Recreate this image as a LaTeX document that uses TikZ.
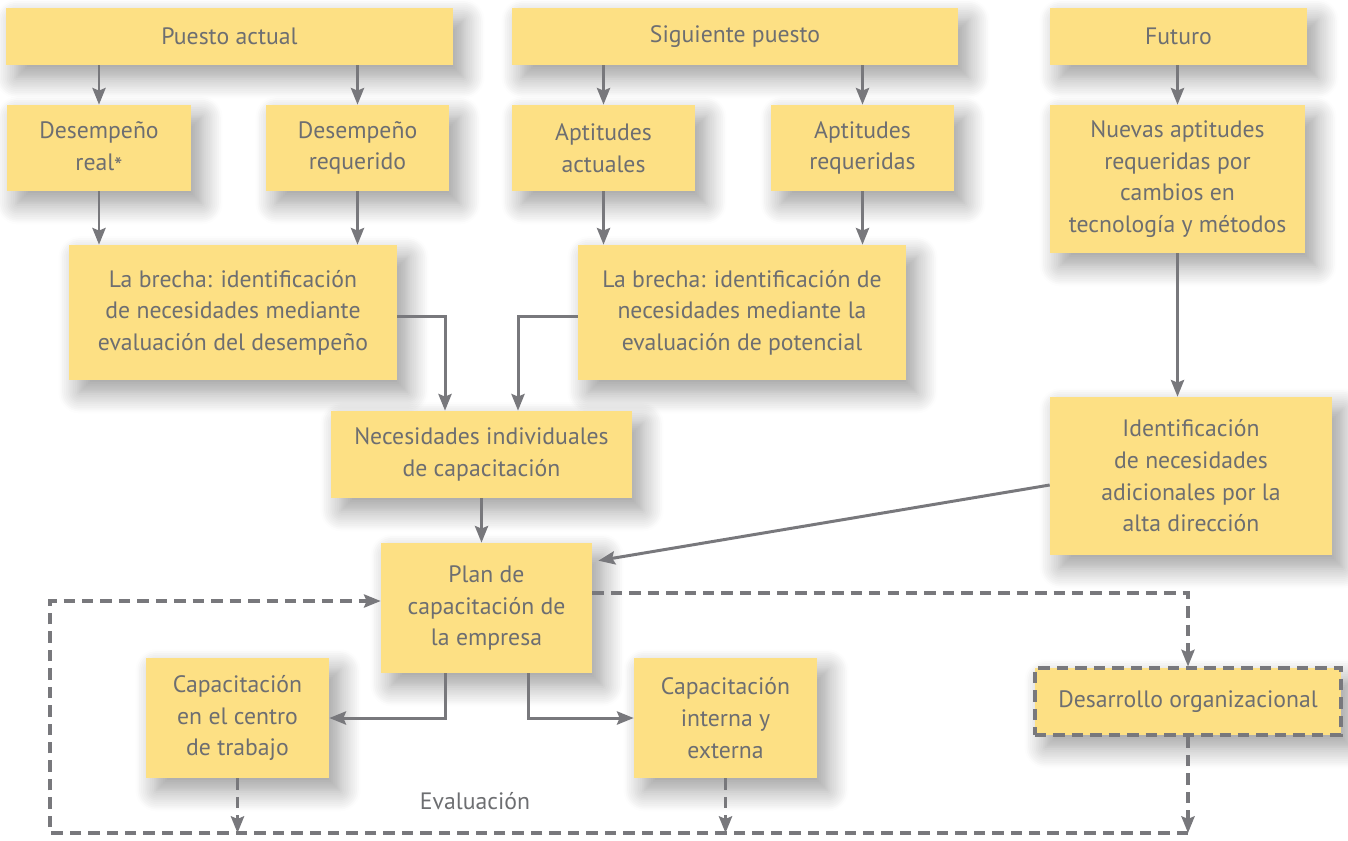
\documentclass[tikz,border=0pt]{standalone}
\usepackage{fontspec}
\setmainfont{PT Sans}
\usetikzlibrary{arrows.meta,positioning,calc,shadows.blur}
\definecolor{cajacol}{RGB}{253,224,132}
\definecolor{textocol}{RGB}{109,110,113}
\definecolor{lineacol}{RGB}{120,120,124}

\begin{document}
\begin{tikzpicture}[x=0.02cm,y=-0.02cm,>=Stealth,
  caja/.style={fill=cajacol,text=textocol,align=center,inner sep=0pt,
    font=\fontsize{13.5}{18}\selectfont,
    blur shadow={shadow xshift=6pt,shadow yshift=-7pt,shadow blur radius=12pt,
      shadow blur steps=12,shadow opacity=40}},
  flecha/.style={lineacol,line width=1.7pt,-{Stealth[length=9.5pt,width=7.5pt,inset=1.5pt]}},
  discont/.style={lineacol,line width=1.8pt,dash pattern=on 6.5pt off 4pt},
  flechad/.style={discont,-{Stealth[length=9.5pt,width=7.5pt,inset=1.5pt]}}]
  \useasboundingbox (0,0) rectangle (1348,840);

  % fila superior
  \node[caja,minimum width=8.94cm,minimum height=1.14cm] (pa) at (229.5,36.5) {Puesto actual};
  \node[caja,minimum width=8.92cm,minimum height=1.14cm] (sp) at (735,36.5) {Siguiente puesto};
  \node[caja,minimum width=5.14cm,minimum height=1.14cm] (fu) at (1178.5,36.5) {Futuro};

  % segunda fila
  \node[caja,minimum width=3.68cm,minimum height=1.72cm] (dreal) at (99,148)
    {Desempeño\\real\raisebox{-0.3ex}{*}};
  \node[caja,minimum width=3.66cm,minimum height=1.72cm] (dreq) at (357.5,148) {Desempeño\\requerido};
  \node[caja,minimum width=3.66cm,minimum height=1.72cm] (aact) at (603.5,148) {Aptitudes\\actuales};
  \node[caja,minimum width=3.66cm,minimum height=1.72cm] (areq) at (862.5,148) {Aptitudes\\requeridas};
  \node[caja,minimum width=5.1cm,minimum height=2.96cm] (nue) at (1177.5,179)
    {Nuevas aptitudes\\requeridas por\\cambios en\\tecnología y métodos};

  % brechas
  \node[caja,minimum width=6.56cm,minimum height=2.7cm] (br1) at (233,312.5)
    {La brecha: identificación\\de necesidades mediante\\evaluación del desempeño};
  \node[caja,minimum width=6.56cm,minimum height=2.7cm] (br2) at (742,312.5)
    {La brecha: identificación de\\necesidades mediante la\\evaluación de potencial};

  \node[caja,minimum width=6.02cm,minimum height=1.74cm] (nec) at (481.5,454.5)
    {Necesidades individuales\\de capacitación};
  \node[caja,minimum width=5.64cm,minimum height=3.16cm] (ide) at (1191,476)
    {Identificación\\de necesidades\\adicionales por la\\alta dirección};

  \node[caja,minimum width=4.22cm,minimum height=2.6cm] (plan) at (486.5,608)
    {Plan de\\capacitación de\\la empresa};

  % fila inferior
  \node[caja,minimum width=3.66cm,minimum height=2.4cm] (cap1) at (237.5,718)
    {Capacitación\\en el centro\\de trabajo};
  \node[caja,minimum width=3.66cm,minimum height=2.4cm] (cap2) at (725.5,718)
    {Capacitación\\interna y\\externa};
  \node[caja,draw=lineacol,line width=1.8pt,dash pattern=on 6.5pt off 4pt,
    minimum width=6.12cm,minimum height=1.34cm] (des) at (1188,701.5) {Desarrollo organizacional};

  \node[text=textocol,font=\fontsize{13.5}{18}\selectfont] (eva) at (475,801) {Evaluación};
  \coordinate (esq) at (50,833);

  % flechas continuas
  \draw[flecha] (dreal.north |- pa.south) -- (dreal.north);
  \draw[flecha] (dreq.north |- pa.south) -- (dreq.north);
  \draw[flecha] (aact.north |- sp.south) -- (aact.north);
  \draw[flecha] (areq.north |- sp.south) -- (areq.north);
  \draw[flecha] (nue.north |- fu.south) -- (nue.north);
  \draw[flecha] (dreal.south) -- (dreal.south |- br1.north);
  \draw[flecha] (dreq.south) -- (dreq.south |- br1.north);
  \draw[flecha] (aact.south) -- (aact.south |- br2.north);
  \draw[flecha] (areq.south) -- (areq.south |- br2.north);
  \draw[flecha] (nue.south) -- (nue.south |- ide.north);
  \draw[flecha] ($(br1.east)+(0,3.5)$) -| ($(nec.north)+(-36.5,0)$);
  \draw[flecha] ($(br2.west)+(0,3.5)$) -| ($(nec.north)+(36.5,0)$);
  \draw[flecha] (nec.south) -- (nec.south |- plan.north);
  \draw[flecha] ($(ide.west)+(0,9)$) -- ($(plan.north east)+(6,18)$);
  \draw[flecha] ($(plan.south)+(-41.5,0)$) |- (cap1.east);
  \draw[flecha] ($(plan.south)+(41.5,0)$) |- (cap2.west);

  % flechas discontinuas
  \draw[flechad] ($(plan.east)+(0,-15)$) -| (des.north);
  \draw[flechad] (cap1.south) -- (cap1.south |- esq);
  \draw[flechad] (cap2.south) -- (cap2.south |- esq);
  \draw[flechad] (des.south) -- (des.south |- esq);
  \draw[flechad] (des.south |- esq) -- (esq) |- ($(plan.west)+(0,-7)$);
\end{tikzpicture}
\end{document}
